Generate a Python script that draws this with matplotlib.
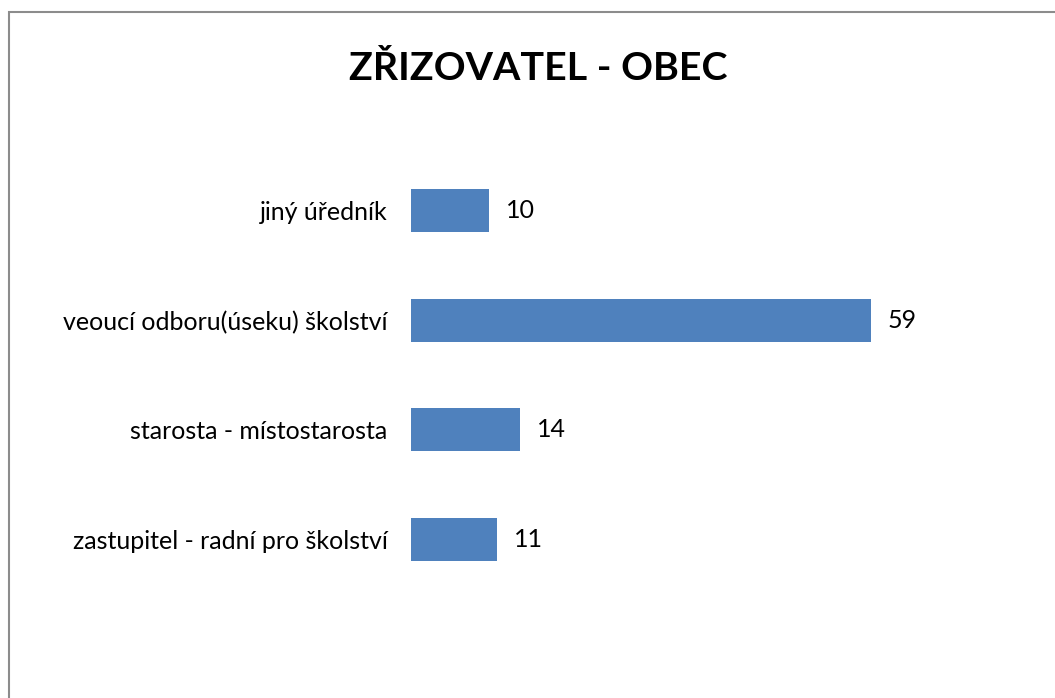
import matplotlib
matplotlib.use("Agg")
import matplotlib.pyplot as plt
from matplotlib.patches import Rectangle

plt.rcParams["font.family"] = ["Lato", "DejaVu Sans"]

categories = [
    "zastupitel - radní pro školství",
    "starosta - místostarosta",
    "veoucí odboru(úseku) školství",
    "jiný úředník",
]
values = [11, 14, 59, 10]
title = "ZŘIZOVATEL - OBEC"
bar_color = "#4F81BD"

fig = plt.figure(figsize=(10.55, 6.98), dpi=100)
fig.patch.set_facecolor("white")

# chart frame: only top and left edges visible in the crop
frame = Rectangle((9 / 1055, -0.1), 1.2, 1.1 - 12 / 698,
                  transform=fig.transFigure, fill=False,
                  edgecolor="#8c8c8c", linewidth=1.5)
fig.patches.append(frame)

ax = fig.add_axes([411 / 1055, 1 - 594 / 698, 546 / 1055, 438 / 698])
pos = range(len(categories))
ax.barh(pos, values, height=0.39, color=bar_color)
ax.set_xlim(0, 70)
ax.set_ylim(-0.5, 3.5)

for p, v in zip(pos, values):
    ax.annotate(str(v), (v, p), xytext=(12, 0), textcoords="offset points",
                va="center", ha="left", fontsize=18)

ax.set_yticks(list(pos))
ax.set_yticklabels(categories, fontsize=18)
ax.tick_params(axis="y", length=0, pad=17)
ax.set_xticks([])
for s in ax.spines.values():
    s.set_visible(False)

fig.text(538 / 1055, 1 - 68 / 698, title, ha="center", va="center",
         fontsize=28.4, fontweight="bold")

fig.savefig("out.png", dpi=100, facecolor="white")
